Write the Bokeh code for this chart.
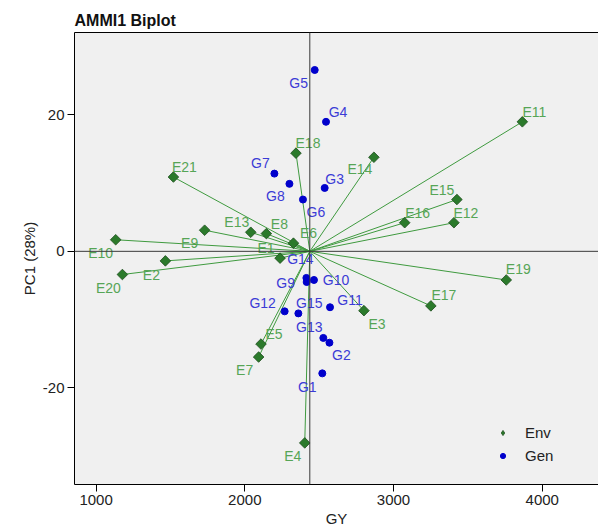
import numpy as np
from bokeh.plotting import figure
from bokeh.models import ColumnDataSource, Span, LinearAxis, FixedTicker, Legend, LegendItem
from bokeh.core.properties import value
from bokeh.embed import file_html
from bokeh.resources import INLINE

# ---- data ----
env_names = ["E1", "E2", "E3", "E4", "E5", "E6", "E7", "E8", "E9", "E10", "E11",
             "E12", "E13", "E14", "E15", "E16", "E17", "E18", "E19", "E20", "E21"]
env_gy = [2237, 1466, 2801, 2403, 2109, 2327, 2093, 2145, 1730, 1132, 3866,
          3406, 2040, 2868, 3426, 3075, 3251, 2344, 3758, 1177, 1520]
env_pc1 = [-1.0, -1.4, -8.7, -28.1, -13.6, 1.2, -15.5, 2.6, 3.1, 1.7, 19.0,
           4.2, 2.8, 13.8, 7.6, 4.2, -8.0, 14.4, -4.2, -3.4, 10.9]

gen_names = ["G1", "G2", "G3", "G4", "G5", "G6", "G7", "G8", "G9", "G10",
             "G11", "G12", "G13", "G14", "G15"]
gen_gy = [2521, 2569, 2537, 2546, 2470, 2391, 2199, 2300, 2416, 2465,
          2573, 2268, 2528, 2414, 2360]
gen_pc1 = [-17.9, -13.4, 9.3, 19.0, 26.6, 7.6, 11.4, 9.9, -4.5, -4.2,
           -8.2, -8.8, -12.7, -3.9, -9.1]

grand_mean = 2437

x_ticks = [1000, 2000, 3000, 4000]
y_ticks = [-20, 0, 20]
y_tick_labels = ["-20", "0", "20"]

# ---- label placement (screen px offsets) ----
env_dx = [-14, -14, 13, -12, 13, 15, -14, 13, -15, -15, 12, 12, -14, -14, -15, 13, 13, 12, 12, -14, 11]
env_dy = [-10, 14, 13, 13, -10, -10, 13, -10, 13, 13, -10, -10, -10, 12, -10, -10, -11, -10, -11, 13, -10]
gen_dx = [-15, 12, 10, 12, -16, 13, -14, -14, -21, 22, 20, -22, -14, -6, 11]
gen_dy = [14, 12, -9, -10, 13, 12, -11, 12, 1, 0, -7, -8, -11, -19, -10]

FONT = "Liberation Sans"
ENV_FILL = "#2b7a2b"
ENV_EDGE = "#1d4d1d"
ENV_LINE = "#3f9a3f"
ENV_TEXT = "#56a556"
GEN_FILL = "#0000cc"
GEN_TEXT = "#3b3bd6"

env_src = ColumnDataSource(dict(gy=env_gy, pc1=env_pc1, name=env_names,
                                x0=[grand_mean] * len(env_gy), y0=[0] * len(env_gy),
                                dx=env_dx, dy=env_dy))
gen_src = ColumnDataSource(dict(gy=gen_gy, pc1=gen_pc1, name=gen_names,
                                dx=gen_dx, dy=gen_dy))

p = figure(width=598, height=529, output_backend="svg", toolbar_location=None,
           x_range=(855, 4378), y_range=(-34.2, 32.1),
           min_border_left=74, min_border_right=0, min_border_top=32, min_border_bottom=40,
           background_fill_color="#f0f0f0", border_fill_color="white")
p.outline_line_color = None
p.grid.visible = False

p.title.text = "AMMI1 Biplot"
p.title.text_font = FONT
p.title.text_font_size = "16px"
p.title.text_font_style = "bold"
p.title.text_color = "#111111"
p.title.standoff = 7

for ax in (p.xaxis[0], p.yaxis[0]):
    ax.axis_line_color = "black"
    ax.axis_line_width = 1
    ax.major_tick_line_color = "black"
    ax.major_tick_out = 7
    ax.major_tick_in = 0
    ax.minor_tick_line_color = None
    ax.major_label_text_font = FONT
    ax.major_label_text_font_size = "15px"
    ax.major_label_text_color = "#222222"
    ax.major_label_standoff = 3
    ax.axis_label_text_font = FONT
    ax.axis_label_text_font_size = "15px"
    ax.axis_label_text_font_style = "normal"
    ax.axis_label_text_color = "#222222"
    ax.axis_label_standoff = 2

p.xaxis.ticker = FixedTicker(ticks=x_ticks)
p.yaxis.ticker = FixedTicker(ticks=y_ticks)
p.yaxis.major_label_overrides = {t: l for t, l in zip(y_ticks, y_tick_labels)}
p.xaxis.axis_label = "GY"
p.yaxis.axis_label = "PC1 (28%)"

top = LinearAxis(ticker=FixedTicker(ticks=[]), axis_line_color="black",
                 major_tick_line_color=None, minor_tick_line_color=None,
                 major_label_text_font_size="0px")
p.add_layout(top, "above")

p.add_layout(Span(location=grand_mean, dimension="height", line_color="#3a3a3a", line_width=1))
p.add_layout(Span(location=0, dimension="width", line_color="#3a3a3a", line_width=1))

p.segment(x0="x0", y0="y0", x1="gy", y1="pc1", source=env_src, line_color=ENV_LINE, line_width=1)

p.scatter(x="gy", y="pc1", source=env_src, marker="square", angle=np.pi / 4, size=7.5,
          fill_color=ENV_FILL, line_color=ENV_EDGE, line_width=0.8)
gen_r = p.scatter(x="gy", y="pc1", source=gen_src, marker="circle", size=7,
                  fill_color=GEN_FILL, line_color=GEN_FILL)

# legend key for Env (diamond shape in the key); NaN so nothing is drawn in the plot
env_key = p.scatter(x=[np.nan], y=[np.nan], marker="diamond", size=8,
                    fill_color=ENV_FILL, line_color=ENV_EDGE, line_width=0.8)

p.text(x="gy", y="pc1", text="name", x_offset="dx", y_offset="dy", source=env_src,
       text_font=value(FONT), text_font_size="14px", text_color=ENV_TEXT,
       text_align="center", text_baseline="middle")
p.text(x="gy", y="pc1", text="name", x_offset="dx", y_offset="dy", source=gen_src,
       text_font=value(FONT), text_font_size="14px", text_color=GEN_TEXT,
       text_align="center", text_baseline="middle")

legend = Legend(items=[LegendItem(label="Env", renderers=[env_key], index=0),
                       LegendItem(label="Gen", renderers=[gen_r])],
                location=(422, 20), orientation="vertical",
                padding=0, margin=0, spacing=6,
                glyph_width=13, glyph_height=13, label_height=14, label_standoff=16,
                border_line_color=None, background_fill_alpha=0,
                label_text_font=FONT, label_text_font_size="15px", label_text_color="#222222")
p.add_layout(legend)

open("out.html", "w").write(file_html(p, INLINE))
